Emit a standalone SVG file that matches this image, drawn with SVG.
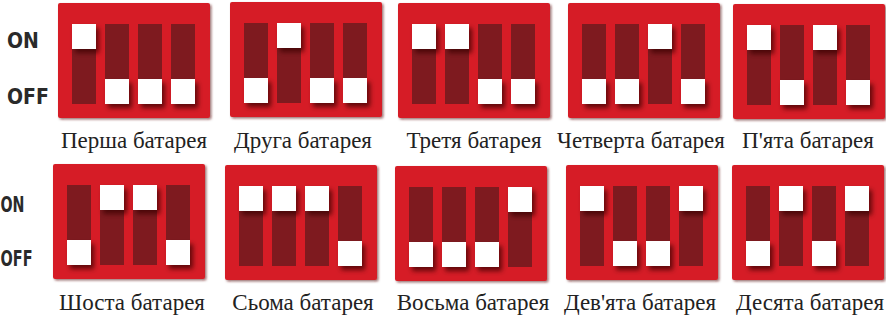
<svg xmlns="http://www.w3.org/2000/svg" width="886" height="321" viewBox="0 0 886 321">
<defs>
<style>
.box{fill:#d61f28;filter:url(#bs)}
.slot{fill:#7e1a1f}
.knob{fill:#ffffff;filter:url(#ks)}
.lbl{font-family:"Liberation Serif","DejaVu Serif",serif;font-size:23px;fill:#222;text-anchor:middle}
.st{font-family:"DejaVu Sans Condensed","DejaVu Sans",sans-serif;font-weight:bold;font-size:21px;fill:#2a2a2a}
</style>
<filter id="bs" x="-5%" y="-5%" width="112%" height="115%">
<feDropShadow dx="1.5" dy="1.5" stdDeviation="1" flood-color="#5a0a0e" flood-opacity="0.6"/>
</filter>
<filter id="ks" x="-30%" y="-30%" width="180%" height="180%">
<feDropShadow dx="3" dy="4" stdDeviation="2.5" flood-color="#3a0005" flood-opacity="0.75"/>
</filter>
<g id="slots">
<rect class="slot" x="14" y="21" width="24" height="80"/>
<rect class="slot" x="47" y="21" width="24" height="80"/>
<rect class="slot" x="80" y="21" width="24" height="80"/>
<rect class="slot" x="113" y="21" width="24" height="80"/>
</g>
</defs>
<text class="st" x="7" y="48">ON</text>
<text class="st" x="7" y="104">OFF</text>
<text class="st" x="0.5" y="212" textLength="24" lengthAdjust="spacingAndGlyphs">ON</text>
<text class="st" x="0.5" y="266" textLength="32" lengthAdjust="spacingAndGlyphs">OFF</text>
<g id="node1" transform="translate(58,3)">
<rect class="box" width="152" height="115" rx="2"/><use href="#slots"/>
<rect class="knob" x="14" y="21" width="24" height="25"/>
<rect class="knob" x="47" y="76" width="24" height="25"/>
<rect class="knob" x="80" y="76" width="24" height="25"/>
<rect class="knob" x="113" y="76" width="24" height="25"/>
<text class="lbl" x="76" y="145">Перша батарея</text>
</g>
<g id="node2" transform="translate(230,2)">
<rect class="box" width="152" height="115" rx="2"/><use href="#slots"/>
<rect class="knob" x="14" y="76" width="24" height="25"/>
<rect class="knob" x="47" y="21" width="24" height="25"/>
<rect class="knob" x="80" y="76" width="24" height="25"/>
<rect class="knob" x="113" y="76" width="24" height="25"/>
<text class="lbl" x="73" y="146">Друга батарея</text>
</g>
<g id="node3" transform="translate(398,3)">
<rect class="box" width="152" height="115" rx="2"/><use href="#slots"/>
<rect class="knob" x="14" y="21" width="24" height="25"/>
<rect class="knob" x="47" y="21" width="24" height="25"/>
<rect class="knob" x="80" y="76" width="24" height="25"/>
<rect class="knob" x="113" y="76" width="24" height="25"/>
<text class="lbl" x="76" y="145">Третя батарея</text>
</g>
<g id="node4" transform="translate(568,3)">
<rect class="box" width="152" height="115" rx="2"/><use href="#slots"/>
<rect class="knob" x="14" y="76" width="24" height="25"/>
<rect class="knob" x="47" y="76" width="24" height="25"/>
<rect class="knob" x="80" y="21" width="24" height="25"/>
<rect class="knob" x="113" y="76" width="24" height="25"/>
<text class="lbl" x="73" y="145">Четверта батарея</text>
</g>
<g id="node5" transform="translate(733,4)">
<rect class="box" width="152" height="115" rx="2"/><use href="#slots"/>
<rect class="knob" x="14" y="21" width="24" height="25"/>
<rect class="knob" x="47" y="76" width="24" height="25"/>
<rect class="knob" x="80" y="21" width="24" height="25"/>
<rect class="knob" x="113" y="76" width="24" height="25"/>
<text class="lbl" x="75" y="144">П'ята батарея</text>
</g>
<g id="node6" transform="translate(53,164)">
<rect class="box" width="152" height="115" rx="2"/><use href="#slots"/>
<rect class="knob" x="14" y="76" width="24" height="25"/>
<rect class="knob" x="47" y="21" width="24" height="25"/>
<rect class="knob" x="80" y="21" width="24" height="25"/>
<rect class="knob" x="113" y="76" width="24" height="25"/>
<text class="lbl" x="79" y="146">Шоста батарея</text>
</g>
<g id="node7" transform="translate(225,165)">
<rect class="box" width="152" height="115" rx="2"/><use href="#slots"/>
<rect class="knob" x="14" y="21" width="24" height="25"/>
<rect class="knob" x="47" y="21" width="24" height="25"/>
<rect class="knob" x="80" y="21" width="24" height="25"/>
<rect class="knob" x="113" y="76" width="24" height="25"/>
<text class="lbl" x="78" y="145">Сьома батарея</text>
</g>
<g id="node8" transform="translate(395,166)">
<rect class="box" width="152" height="115" rx="2"/><use href="#slots"/>
<rect class="knob" x="14" y="76" width="24" height="25"/>
<rect class="knob" x="47" y="76" width="24" height="25"/>
<rect class="knob" x="80" y="76" width="24" height="25"/>
<rect class="knob" x="113" y="21" width="24" height="25"/>
<text class="lbl" x="78" y="144">Восьма батарея</text>
</g>
<g id="node9" transform="translate(566,165)">
<rect class="box" width="152" height="115" rx="2"/><use href="#slots"/>
<rect class="knob" x="14" y="21" width="24" height="25"/>
<rect class="knob" x="47" y="76" width="24" height="25"/>
<rect class="knob" x="80" y="76" width="24" height="25"/>
<rect class="knob" x="113" y="21" width="24" height="25"/>
<text class="lbl" x="74" y="145">Дев'ята батарея</text>
</g>
<g id="node10" transform="translate(732,165)">
<rect class="box" width="152" height="115" rx="2"/><use href="#slots"/>
<rect class="knob" x="14" y="76" width="24" height="25"/>
<rect class="knob" x="47" y="21" width="24" height="25"/>
<rect class="knob" x="80" y="76" width="24" height="25"/>
<rect class="knob" x="113" y="21" width="24" height="25"/>
<text class="lbl" x="78" y="145">Десята батарея</text>
</g>
<g id="connectors"/>
</svg>
